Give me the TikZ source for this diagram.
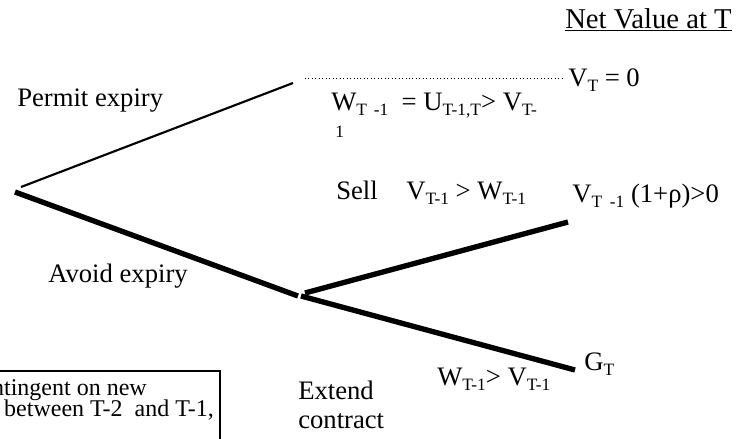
\documentclass[tikz,border=0pt]{standalone}
\usepackage{fontspec}
\setmainfont{Liberation Serif}
\newcommand\sbx[1]{\raisebox{-0.22em}{\fontsize{13}{13}\selectfont #1}}
\begin{document}
\begin{tikzpicture}[x=0.75pt,y=-0.75pt,
  lbl/.style={inner sep=0pt, anchor=base west, font=\fontsize{20}{24}\selectfont},
  boxtxt/.style={inner sep=0pt, anchor=base east, font=\fontsize{18}{20}\selectfont},
  thinline/.style={line width=1.6pt},
  thickline/.style={line width=4pt},
  dotline/.style={line width=0.6pt, dotted}]
\useasboundingbox (0,0) rectangle (740,439);
\clip (0,0) rectangle (740,439);

% tree points
\coordinate (r1) at (21,187);
\coordinate (pe) at (293,83);
\coordinate (r2) at (15,192);
\coordinate (m1) at (298,296);
\coordinate (m2) at (305,293);
\coordinate (m3) at (301,296);
\coordinate (se) at (568,222);
\coordinate (ee) at (575,370);
\coordinate (d1) at (305,78);
\coordinate (d2) at (562,78);

\draw[thinline] (r1) -- (pe);
\draw[thickline] (r2) -- (m1);
\draw[thickline] (m2) -- (se);
\draw[thickline] (m3) -- (ee);
\draw[dotline] (d1) -- (d2);

% labels
\node[lbl, font=\fontsize{21.5}{24}\selectfont] (net) at (565,28) {\underline{Net Value at T}};
\node[lbl] (vt0) at (568,86) {V\sbx{T} = 0};
\node[lbl] (wu) at (331,110) {W\sbx{T\hspace{0.4em}-1} \ = U\sbx{T-1,T}> V\sbx{T-}};
\node[lbl] (one) at (335,137) {\fontsize{13}{13}\selectfont 1};
\node[lbl] (perm) at (17,106) {Permit expiry};
\node[lbl] (sell) at (336,199) {Sell};
\node[lbl] (vw) at (406,199) {V\sbx{T-1} > W\sbx{T-1}};
\node[lbl] (vrho) at (572,202) {V\sbx{T\hspace{0.45em}-1} (1+ρ)>0};
\node[lbl] (avoid) at (48,282) {Avoid expiry};
\node[lbl] (gt) at (584,370) {G\sbx{T}};
\node[lbl] (wv) at (437,385) {W\sbx{T-1}> V\sbx{T-1}};
\node[lbl] (ext) at (298,399) {Extend};
\node[lbl] (con) at (298,428) {contract};

% box
\draw[line width=1.5pt] (-10,371) rectangle (220,470);
\node[boxtxt] (b1) at (147,395) {ntingent on new};
\node[boxtxt] (b2) at (214,416) {between T-2 \ and T-1,};
\end{tikzpicture}
\end{document}
